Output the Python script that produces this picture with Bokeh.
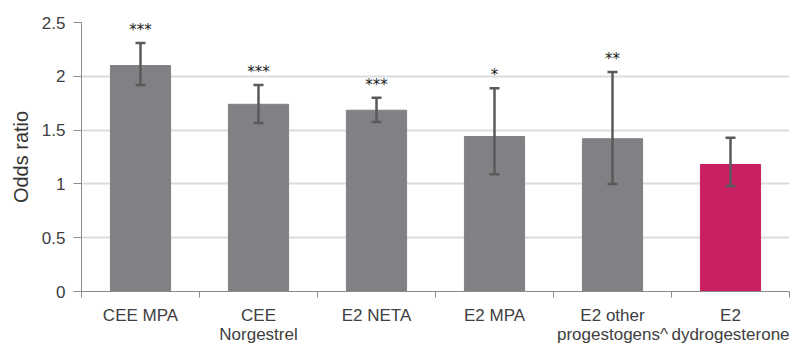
from bokeh.plotting import figure
from bokeh.models import FixedTicker, Whisker, TeeHead, ColumnDataSource, Range1d
from bokeh.embed import file_html
from bokeh.resources import INLINE
from bokeh.core.properties import value

categories = ["CEE MPA", "CEE\nNorgestrel", "E2 NETA", "E2 MPA", "E2 other\nprogestogens^", "E2\ndydrogesterone"]
odds = [2.10, 1.74, 1.685, 1.44, 1.42, 1.18]
lower = [1.92, 1.565, 1.575, 1.09, 1.00, 0.98]
upper = [2.31, 1.92, 1.80, 1.89, 2.04, 1.43]
stars = ["***", "***", "***", "*", "**", ""]
colors = ["#808184", "#808184", "#808184", "#808184", "#808184", "#C91F63"]
y_ticks = [0, 0.5, 1, 1.5, 2, 2.5]

xs = [i + 0.5 for i in range(len(categories))]
src = ColumnDataSource(dict(x=xs, top=odds, lower=lower, upper=upper, stars=stars, color=colors))

FONT = "Liberation Sans"
TXT = "#404040"

p = figure(width=801, height=347, output_backend="svg", toolbar_location=None,
           x_range=Range1d(0, len(categories)), y_range=Range1d(0, 2.5),
           min_border_left=81, min_border_right=12, min_border_top=22, min_border_bottom=55)
p.outline_line_color = None
p.background_fill_color = "white"

p.vbar(x="x", top="top", width=0.51, color="color", source=src)

wh = Whisker(base="x", upper="upper", lower="lower", source=src,
             line_color="#5a5a5a", line_width=2.5, level="overlay",
             upper_head=TeeHead(size=10, line_color="#5a5a5a", line_width=2.5),
             lower_head=TeeHead(size=10, line_color="#5a5a5a", line_width=2.5))
p.add_layout(wh)

p.text(x="x", y="upper", text="stars", source=src, text_align="center", text_baseline="middle",
       y_offset=-13, text_font=value("DejaVu Sans"), text_font_size="15px", text_color="#1a1a1a")

# y axis
p.yaxis.ticker = FixedTicker(ticks=y_ticks)
p.yaxis.major_label_overrides = {0: "0", 0.5: "0.5", 1: "1", 1.5: "1.5", 2: "2", 2.5: "2.5"}
p.yaxis.axis_label = "Odds ratio"
p.yaxis.axis_label_text_font = FONT
p.yaxis.axis_label_text_font_style = "normal"
p.yaxis.axis_label_text_font_size = "20px"
p.yaxis.axis_label_text_color = "#333333"
p.yaxis.axis_label_standoff = 7
p.yaxis.major_label_text_font = FONT
p.yaxis.major_label_text_font_size = "17px"
p.yaxis.major_label_text_color = TXT
p.yaxis.axis_line_color = "#8a8a8a"
p.yaxis.major_tick_line_color = "#8a8a8a"
p.yaxis.major_tick_out = 8
p.yaxis.major_tick_in = 0
p.yaxis.minor_tick_line_color = None
p.yaxis.major_label_standoff = 8

# x axis
p.xaxis.ticker = FixedTicker(ticks=xs, minor_ticks=list(range(len(categories) + 1)))
p.xaxis.major_label_overrides = {x: c for x, c in zip(xs, categories)}
p.xaxis.major_label_text_font = FONT
p.xaxis.major_label_text_font_size = "17px"
p.xaxis.major_label_text_line_height = 1.05
p.xaxis.major_label_text_color = TXT
p.xaxis.major_tick_line_color = None
p.xaxis.major_tick_out = 0
p.xaxis.major_tick_in = 0
p.xaxis.minor_tick_line_color = "#8a8a8a"
p.xaxis.minor_tick_out = 6
p.xaxis.minor_tick_in = 0
p.xaxis.axis_line_color = "#8a8a8a"
p.xaxis.major_label_standoff = 8

p.xgrid.grid_line_color = None
p.ygrid.grid_line_color = "#dcdcdc"
p.ygrid.grid_line_width = 2

open("out.html", "w").write(file_html(p, INLINE))
